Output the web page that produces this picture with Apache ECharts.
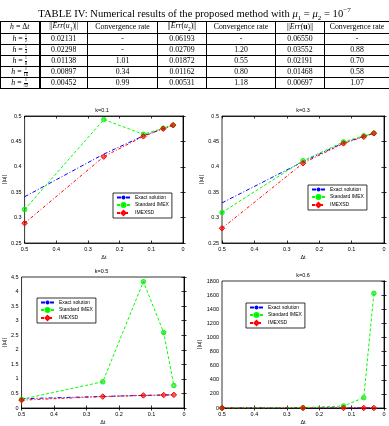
<!DOCTYPE html>
<html><head><meta charset="utf-8">
<script src="https://cdn.jsdelivr.net/npm/echarts@6/dist/echarts.min.js"></script>
<style>
html,body{margin:0;padding:0;background:#fff;width:389px;height:426px;overflow:hidden;}
#chart{position:absolute;left:0;top:0;width:389px;height:426px;}
#cap{position:absolute;left:0;top:5px;width:389px;text-align:center;font-family:'Liberation Serif',serif;font-size:10.6px;line-height:11px;white-space:nowrap;}
#tbl{position:absolute;left:0;top:21px;width:389px;border-collapse:collapse;table-layout:fixed;font-family:'Liberation Serif',serif;font-size:7.8px;background:#fff;}
#tbl td{border:0.8px solid #000;height:10px;padding:0;text-align:center;vertical-align:middle;line-height:8px;white-space:nowrap;overflow:hidden;}
#tbl td.dbl{border-right:2.6px double #000;}
.fr{display:inline-flex;flex-direction:column;vertical-align:middle;font-size:4.7px;line-height:4.6px;text-align:center;}
.fr span:first-child{border-bottom:0.5px solid #000;}
i{font-style:italic;}
sub{font-size:5.5px;}
</style>
</head><body>
<div id="chart"></div>
<div id="cap">TABLE IV: Numerical results of the proposed method with <i>μ</i><sub style="font-size:7px">1</sub> = <i>μ</i><sub style="font-size:7px">2</sub> = 10<sup style="font-size:7px">−7</sup></div>
<table id="tbl"></table>
<script>
// ---- table data ----
const tableDen = ['2','4','8','16','32'];
const errU1 = ['0.02131','0.02298','0.01138','0.00897','0.00452'];
const rateU1 = ['-','-','1.01','0.34','0.99'];
const errU2 = ['0.06193','0.02709','0.01872','0.01162','0.00531'];
const rateU2 = ['-','1.20','0.55','0.80','1.18'];
const errU = ['0.06550','0.03552','0.02191','0.01468','0.00697'];
const rateU = ['-','0.88','0.70','0.58','1.07'];

// ---- chart data ----
const dt = [0.5, 0.25, 0.125, 0.0625, 0.03125];
const kLabels = ['k=0.1','k=0.3','k=0.5','k=0.6'];
const seriesNames = ['Exact solution','Standard IMEX','IMEXSD'];
const exact01 = [0.341, 0.425, 0.461, 0.475, 0.482];
const std01   = [0.316, 0.493, 0.464, 0.476, 0.482];
const sd01    = [0.289, 0.420, 0.460, 0.475, 0.482];
const exact03 = [0.329, 0.410, 0.447, 0.460, 0.466];
const std03   = [0.310, 0.412, 0.449, 0.461, 0.466];
const sd03    = [0.279, 0.407, 0.446, 0.459, 0.466];
const exact05 = [0.318, 0.397, 0.433, 0.446, 0.451];
const std05   = [0.30, 0.90, 4.34, 2.59, 0.77];
const sd05    = [0.27, 0.392, 0.432, 0.445, 0.451];
const exact06 = [0.31, 0.39, 0.42, 0.44, 0.44];
const std06   = [0.29, 5, 28, 146, 1626];
const sd06    = [0.26, 0.385, 0.42, 0.43, 0.44];
const yMin = [0.25, 0.25, 0, 0];
const yMax = [0.5, 0.5, 4.5, 1800];
const yInt = [0.05, 0.05, 0.5, 200];

// build table
(function(){
  const t = document.getElementById('tbl');
  const widths = [39,48,70,49,69,49,65];
  let html = '<colgroup>' + widths.map(w=>'<col style="width:'+w+'px">').join('') + '</colgroup>';
  html += '<tr><td class="dbl"><i>h</i> = Δ<i>t</i></td><td>||<i>Err</i>(<i>u</i><sub>1</sub>)||</td><td>Convergence rate</td>'+
          '<td>||<i>Err</i>(<i>u</i><sub>2</sub>)||</td><td>Convergence rate</td>'+
          '<td>||<i>Err</i>(<b>u</b>)||</td><td>Convergence rate</td></tr>';
  for (let i=0;i<tableDen.length;i++){
    html += '<tr><td class="dbl"><i>h</i> = <span class="fr"><span>1</span><span>'+tableDen[i]+'</span></span></td>'+
      '<td>'+errU1[i]+'</td><td>'+rateU1[i]+'</td><td>'+errU2[i]+'</td><td>'+rateU2[i]+'</td><td>'+errU[i]+'</td><td>'+rateU[i]+'</td></tr>';
  }
  t.innerHTML = html;
})();

const chart = echarts.init(document.getElementById('chart'), null, {renderer:'canvas'});
const grids = [
  {left:21, top:116, width:162, height:127},
  {left:222, top:116, width:162, height:127},
  {left:19, top:277, width:165, height:131},
  {left:222, top:281, width:162, height:127}
];
const legendPos = [[113,193],[308,185],[37,298],[246,303]];
const panelData = [[exact01,std01,sd01],[exact03,std03,sd03],[exact05,std05,sd05],[exact06,std06,sd06]];
const fmt = v => String(+(+v).toFixed(4));
const xAxes = [], yAxes = [], series = [], titles = [], legends = [];
grids.forEach((g,i)=>{
  const base = {gridIndex:i, type:'value', splitLine:{show:false},
    axisLine:{show:true, lineStyle:{color:'#000', width:0.8}},
    axisTick:{show:true, inside:true, length:2.5, lineStyle:{color:'#000', width:0.8}}};
  xAxes.push(Object.assign({}, base, {position:'bottom', min:0, max:0.5, interval:0.1, inverse:true,
    axisLabel:{fontSize:5.5, color:'#000', margin:3, formatter:fmt},
    name:'Δt', nameLocation:'middle', nameGap:11, nameTextStyle:{fontSize:5.5, color:'#000'}}));
  xAxes.push(Object.assign({}, base, {position:'top', min:0, max:0.5, interval:0.1, inverse:true, axisLabel:{show:false}}));
  yAxes.push(Object.assign({}, base, {position:'left', min:yMin[i], max:yMax[i], interval:yInt[i],
    axisLabel:{fontSize:5.5, color:'#000', margin:3, formatter:fmt},
    name:'||u||', nameLocation:'middle', nameRotate:90, nameGap: i===3?19:(i===2?11:14), nameTextStyle:{fontSize:5.5, color:'#000'}}));
  yAxes.push(Object.assign({}, base, {position:'right', min:yMin[i], max:yMax[i], interval:yInt[i], axisLabel:{show:false}}));
  titles.push({text:kLabels[i], left:g.left+g.width/2, top:g.top-9, textAlign:'center', padding:0,
    textStyle:{fontSize:5.5, fontWeight:'normal', color:'#000'}});
  legends.push({data:seriesNames, orient:'vertical', left:legendPos[i][0], top:legendPos[i][1],
    backgroundColor:'#fff', borderColor:'#000', borderWidth:0.8, padding:[2,3,2,3],
    itemWidth:13, itemHeight:5, itemGap:2, textStyle:{fontSize:5, color:'#000'}, selectedMode:false});
  const [ex, st, sd] = panelData[i];
  const mk = arr => dt.map((x,j)=>[x, arr[j]]);
  series.push({name:seriesNames[0], type:'line', xAxisIndex:2*i, yAxisIndex:2*i, data:mk(ex),
    symbol:'none', color:'#0000ff', lineStyle:{color:'#0000ff', width:1, type:[4,2,1,2]}, z:2});
  series.push({name:seriesNames[1], type:'line', xAxisIndex:2*i, yAxisIndex:2*i, data:mk(st),
    symbol:'circle', symbolSize:4.5, color:'#00ff00',
    itemStyle:{color:'rgba(0,200,0,0.55)', borderColor:'#00ff00', borderWidth:1},
    lineStyle:{color:'#00ff00', width:1, type:[3,2]}, z:3});
  series.push({name:seriesNames[2], type:'line', xAxisIndex:2*i, yAxisIndex:2*i, data:mk(sd),
    symbol:'diamond', symbolSize:5.5, color:'#ff0000',
    itemStyle:{color:'rgba(220,0,0,0.6)', borderColor:'#ff0000', borderWidth:1},
    lineStyle:{color:'#ff0000', width:1, type:[3,2,1,2]}, z:4});
});
chart.setOption({
  animation:false,
  textStyle:{fontFamily:'Liberation Sans, Arial, sans-serif'},
  title:titles,
  legend:legends,
  grid:grids.map(g=>Object.assign({show:true, borderColor:'#000', borderWidth:0.8, containLabel:false}, g)),
  xAxis:xAxes, yAxis:yAxes, series:series
});
</script>
</body></html>
